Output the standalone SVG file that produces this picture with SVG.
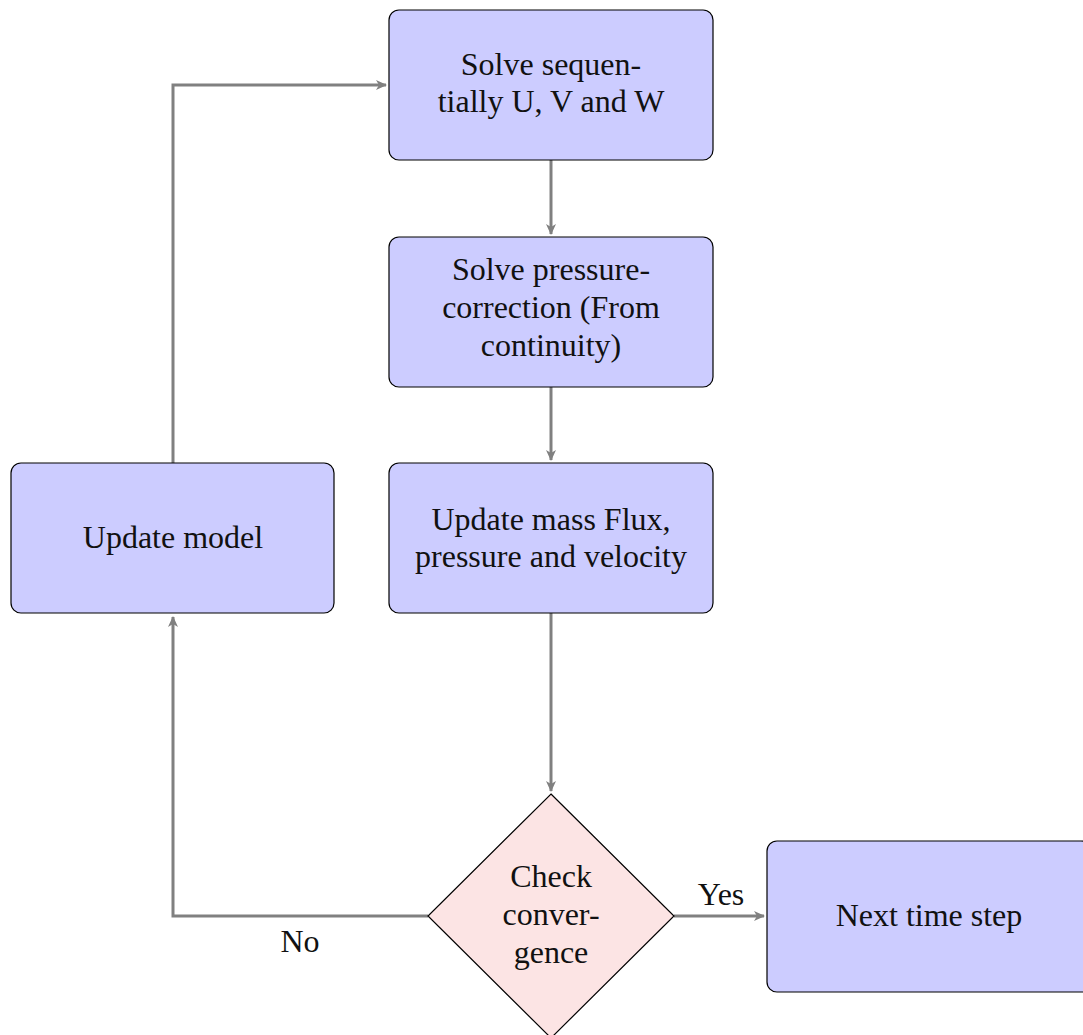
<svg xmlns="http://www.w3.org/2000/svg" width="1083" height="1035" viewBox="0 0 1083 1035">
<style>
.box{fill:#ccccff;stroke:#000;stroke-width:1.2}
.dia{fill:#fce4e4;stroke:#000;stroke-width:1.2}
.t{font-family:"Liberation Serif","Times New Roman",serif;font-size:32px;fill:#111;text-anchor:middle}
.c{fill:none;stroke:#808080;stroke-width:3}
</style>
<defs>
<marker id="ar" markerWidth="12" markerHeight="10" refX="10" refY="5" orient="auto" markerUnits="userSpaceOnUse">
<path d="M0,0 L11,5 L0,10 L3,5 Z" fill="#808080"/>
</marker>
</defs>
<rect width="1083" height="1035" fill="#fff"/>
<g id="connectors">
<path class="c" d="M551,160 V234" marker-end="url(#ar)"/>
<path class="c" d="M551,387 V460" marker-end="url(#ar)"/>
<path class="c" d="M551,613 V791" marker-end="url(#ar)"/>
<path class="c" d="M674,916 H764" marker-end="url(#ar)"/>
<path class="c" d="M428,916 H173 V617" marker-end="url(#ar)"/>
<path class="c" d="M173,463 V85 H386" marker-end="url(#ar)"/>
<text class="t" x="721" y="905">Yes</text>
<text class="t" x="300" y="952">No</text>
</g>
<g id="n1">
<rect class="box" x="389" y="10" width="324" height="150" rx="10"/>
<text class="t" x="551" y="75">Solve sequen-</text>
<text class="t" x="551" y="112">tially U, V and W</text>
</g>
<g id="n2">
<rect class="box" x="389" y="237" width="324" height="150" rx="10"/>
<text class="t" x="551" y="280">Solve pressure-</text>
<text class="t" x="551" y="318">correction (From</text>
<text class="t" x="551" y="356">continuity)</text>
</g>
<g id="n3">
<rect class="box" x="389" y="463" width="324" height="150" rx="10"/>
<text class="t" x="551" y="530">Update mass Flux,</text>
<text class="t" x="551" y="567">pressure and velocity</text>
</g>
<g id="n4">
<rect class="box" x="11" y="463" width="323" height="150" rx="10"/>
<text class="t" x="173" y="548">Update model</text>
</g>
<g id="n5">
<path class="dia" d="M551,794 L674,916 L551,1038 L428,916 Z"/>
<text class="t" x="551" y="887">Check</text>
<text class="t" x="551" y="925">conver-</text>
<text class="t" x="551" y="963">gence</text>
</g>
<g id="n6">
<rect class="box" x="767" y="841" width="324" height="151" rx="10"/>
<text class="t" x="929" y="926">Next time step</text>
</g>
</svg>
